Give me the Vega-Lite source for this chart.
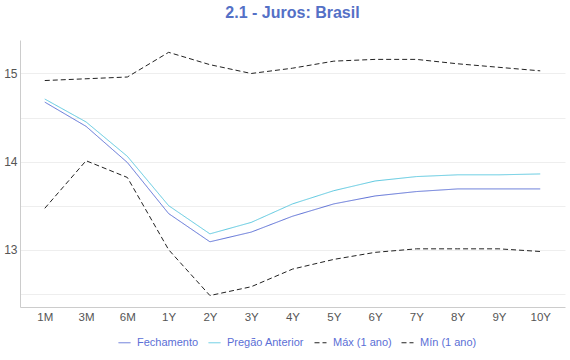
{
  "$schema": "https://vega.github.io/schema/vega-lite/v6.json",
  "autosize": "none",
  "width": 545,
  "height": 267,
  "padding": {"left": 20, "top": 40, "right": 5, "bottom": 53},
  "background": "white",
  "title": {"text": "2.1 - Juros: Brasil", "fontSize": 16, "font": "Liberation Sans", "fontWeight": "bold", "color": "#5470c6", "anchor": "middle", "offset": 19},
  "config": {"view": {"stroke": null}, "font": "Liberation Sans"},
  "data": {"values": [
    {"t": "1M", "s": "Fechamento", "v": 14.675}, {"t": "3M", "s": "Fechamento", "v": 14.40}, {"t": "6M", "s": "Fechamento", "v": 13.99}, {"t": "1Y", "s": "Fechamento", "v": 13.41}, {"t": "2Y", "s": "Fechamento", "v": 13.09}, {"t": "3Y", "s": "Fechamento", "v": 13.20}, {"t": "4Y", "s": "Fechamento", "v": 13.38}, {"t": "5Y", "s": "Fechamento", "v": 13.52}, {"t": "6Y", "s": "Fechamento", "v": 13.61}, {"t": "7Y", "s": "Fechamento", "v": 13.66}, {"t": "8Y", "s": "Fechamento", "v": 13.69}, {"t": "9Y", "s": "Fechamento", "v": 13.69}, {"t": "10Y", "s": "Fechamento", "v": 13.69},
    {"t": "1M", "s": "Pregão Anterior", "v": 14.71}, {"t": "3M", "s": "Pregão Anterior", "v": 14.45}, {"t": "6M", "s": "Pregão Anterior", "v": 14.06}, {"t": "1Y", "s": "Pregão Anterior", "v": 13.50}, {"t": "2Y", "s": "Pregão Anterior", "v": 13.18}, {"t": "3Y", "s": "Pregão Anterior", "v": 13.31}, {"t": "4Y", "s": "Pregão Anterior", "v": 13.52}, {"t": "5Y", "s": "Pregão Anterior", "v": 13.67}, {"t": "6Y", "s": "Pregão Anterior", "v": 13.78}, {"t": "7Y", "s": "Pregão Anterior", "v": 13.83}, {"t": "8Y", "s": "Pregão Anterior", "v": 13.85}, {"t": "9Y", "s": "Pregão Anterior", "v": 13.85}, {"t": "10Y", "s": "Pregão Anterior", "v": 13.86},
    {"t": "1M", "s": "Máx (1 ano)", "v": 14.92}, {"t": "3M", "s": "Máx (1 ano)", "v": 14.94}, {"t": "6M", "s": "Máx (1 ano)", "v": 14.96}, {"t": "1Y", "s": "Máx (1 ano)", "v": 15.24}, {"t": "2Y", "s": "Máx (1 ano)", "v": 15.10}, {"t": "3Y", "s": "Máx (1 ano)", "v": 15.00}, {"t": "4Y", "s": "Máx (1 ano)", "v": 15.06}, {"t": "5Y", "s": "Máx (1 ano)", "v": 15.14}, {"t": "6Y", "s": "Máx (1 ano)", "v": 15.16}, {"t": "7Y", "s": "Máx (1 ano)", "v": 15.16}, {"t": "8Y", "s": "Máx (1 ano)", "v": 15.11}, {"t": "9Y", "s": "Máx (1 ano)", "v": 15.07}, {"t": "10Y", "s": "Máx (1 ano)", "v": 15.03},
    {"t": "1M", "s": "Mín (1 ano)", "v": 13.47}, {"t": "3M", "s": "Mín (1 ano)", "v": 14.01}, {"t": "6M", "s": "Mín (1 ano)", "v": 13.82}, {"t": "1Y", "s": "Mín (1 ano)", "v": 13.00}, {"t": "2Y", "s": "Mín (1 ano)", "v": 12.48}, {"t": "3Y", "s": "Mín (1 ano)", "v": 12.58}, {"t": "4Y", "s": "Mín (1 ano)", "v": 12.78}, {"t": "5Y", "s": "Mín (1 ano)", "v": 12.89}, {"t": "6Y", "s": "Mín (1 ano)", "v": 12.97}, {"t": "7Y", "s": "Mín (1 ano)", "v": 13.01}, {"t": "8Y", "s": "Mín (1 ano)", "v": 13.01}, {"t": "9Y", "s": "Mín (1 ano)", "v": 13.01}, {"t": "10Y", "s": "Mín (1 ano)", "v": 12.98}
  ]},
  "mark": {"type": "line", "strokeWidth": 1},
  "encoding": {
    "x": {"field": "t", "type": "ordinal", "sort": ["1M","3M","6M","1Y","2Y","3Y","4Y","5Y","6Y","7Y","8Y","9Y","10Y"],
      "scale": {"type": "point", "padding": 0.6},
      "axis": {"title": null, "labelAngle": 0, "ticks": false, "domainColor": "#ccc", "labelColor": "#555", "labelFontSize": 11.5, "labelPadding": 4, "grid": false}},
    "y": {"field": "v", "type": "quantitative",
      "scale": {"domain": [12.35, 15.38], "nice": false, "zero": false},
      "axis": {"title": null, "values": [12.5, 13, 13.5, 14, 14.5, 15], "labelExpr": "datum.value % 1 == 0 ? format(datum.value, 'd') : ''", "labelOverlap": false, "ticks": false, "domainColor": "#ccc", "gridColor": "#eee", "labelColor": "#555", "labelFontSize": 12, "labelPadding": 3}},
    "color": {"field": "s", "type": "nominal",
      "scale": {"domain": ["Fechamento", "Pregão Anterior", "Máx (1 ano)", "Mín (1 ano)"], "range": ["#5b6fd6", "#5bc8e0", "#222222", "#222222"]},
      "legend": {"title": null, "orient": "none", "legendX": 98, "legendY": 296, "direction": "horizontal", "labelColor": "#5b6fd6", "labelFontSize": 11, "symbolType": "stroke", "symbolSize": 144, "symbolStrokeWidth": 1, "columnPadding": 7, "labelOffset": 6}},
    "strokeDash": {"field": "s", "type": "nominal",
      "scale": {"domain": ["Fechamento", "Pregão Anterior", "Máx (1 ano)", "Mín (1 ano)"], "range": [[1, 0], [1, 0], [5, 3], [5, 3]]}}
  }
}
